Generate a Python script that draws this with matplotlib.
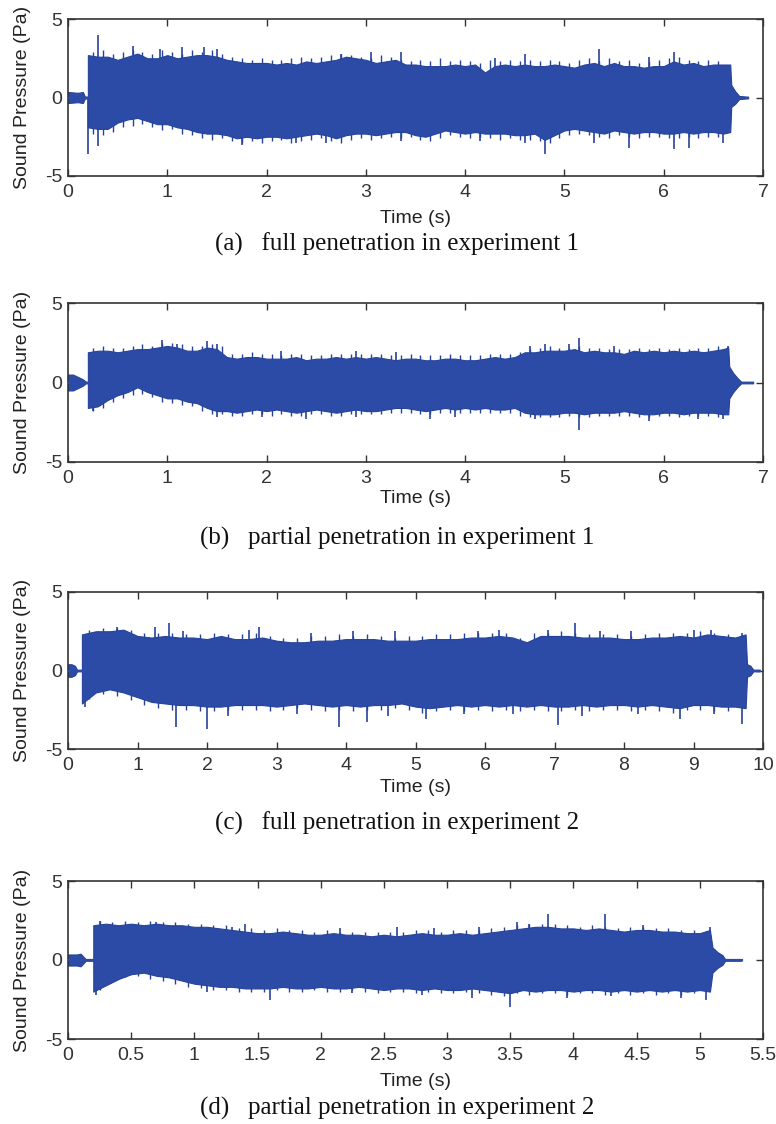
import numpy as np
import matplotlib.pyplot as plt

# envelopes of the recorded sound pressure (Pa), read off the figure
# body values are sampled every dt seconds starting at t0,
# *_pk are the edge peaks half way between body samples

# (a) full penetration in experiment 1
a_head_t = [0, 0.1, 0.15, 0.17, 0.2]
a_head_amp = [0.35, 0.3, 0.35, 0.06, 0.06]
a_t0, a_dt = 0.2, 0.1
a_up = [2.7, 2.6, 2.6, 2.4, 2.6, 2.8, 2.5, 2.5, 2.7, 2.5, 2.6, 2.7, 2.7, 2.6, 2.4, 2.3,
        2.2, 2.2, 2.2, 2.1, 2.2, 2.1, 2.3, 2.2, 2.3, 2.4, 2.6, 2.5, 2.4, 2.2, 2.3, 2.4,
        2.1, 2.1, 2.0, 2.0, 2.0, 2.1, 2.0, 2.1, 1.6, 2.0, 2.1, 2.0, 2.1, 2.0, 2.0, 2.1,
        2.0, 1.9, 2.1, 2.2, 2.0, 2.2, 2.0, 2.0, 1.9, 2.0, 2.0, 2.3, 2.1, 2.2, 2.0, 2.1, 2.1]
a_lo = [-1.9, -2.0, -2.0, -1.6, -1.4, -1.3, -1.5, -1.7, -1.7, -1.9, -2.0, -2.2, -2.3, -2.3,
        -2.4, -2.6, -2.5, -2.6, -2.5, -2.5, -2.6, -2.5, -2.4, -2.3, -2.4, -2.6, -2.4, -2.3,
        -2.3, -2.4, -2.3, -2.2, -2.2, -2.4, -2.5, -2.3, -2.1, -2.2, -2.3, -2.2, -2.3, -2.3,
        -2.3, -2.4, -2.4, -2.3, -2.7, -2.4, -2.1, -2.0, -2.1, -2.2, -2.3, -2.1, -2.2, -2.3,
        -2.2, -2.2, -2.3, -2.3, -2.2, -2.3, -2.2, -2.2, -2.3]
a_up_pk = [2.9, 3.0, 2.8, 2.9, 3.0, 2.9, 2.8, 3.0, 2.9, 2.8, 3.0, 2.9, 3.0, 2.8, 2.6, 2.5,
           2.4, 2.5, 2.4, 2.4, 2.5, 2.6, 2.5, 2.6, 2.7, 2.8, 2.7, 2.6, 2.5, 2.7, 2.6, 2.4,
           2.3, 2.4, 2.3, 2.5, 2.3, 2.4, 2.3, 2.2, 2.4, 2.3, 2.4, 2.3, 2.4, 2.3, 2.4, 2.3,
           2.2, 2.4, 2.5, 2.3, 2.5, 2.3, 2.4, 2.2, 2.3, 2.4, 2.5, 2.6, 2.4, 2.3, 2.4, 2.3]
a_lo_pk = [-2.3, -2.4, -2.2, -1.9, -1.8, -1.7, -1.9, -2.1, -2.0, -2.3, -2.4, -2.6, -2.7, -2.6,
           -2.8, -2.9, -2.8, -2.9, -2.8, -2.7, -2.9, -2.8, -2.7, -2.6, -2.8, -2.9, -2.7, -2.6,
           -2.7, -2.6, -2.5, -2.6, -2.5, -2.7, -2.8, -2.6, -2.4, -2.5, -2.6, -2.5, -2.6, -2.7,
           -2.6, -2.7, -2.7, -2.8, -2.9, -2.6, -2.4, -2.3, -2.4, -2.5, -2.6, -2.4, -2.5, -2.6,
           -2.5, -2.5, -2.6, -2.6, -2.5, -2.6, -2.5, -2.5]
a_tail_t = [6.67, 6.68, 6.72, 6.76, 6.85]
a_tail_up = [2.1, 0.8, 0.4, 0.1, 0.05]
a_tail_lo = [-2.2, -0.6, -0.4, -0.1, -0.05]
a_spk_t = [0.3, 0.65, 0.93, 1.15, 1.37, 1.5, 2.75, 3.05, 3.35, 4.3, 4.6, 5.35, 5.85, 6.1,
           0.2, 0.3, 1.75, 2.3, 2.6, 3.35, 4.15, 4.6, 4.8, 5.3, 5.65, 6.1, 6.25, 6.6]
a_spk_v = [4.0, 3.3, 3.1, 3.2, 3.2, 3.1, 2.8, 2.9, 2.9, 2.5, 2.8, 3.1, 2.6, 2.9,
           -3.6, -3.1, -3.0, -2.9, -2.9, -2.8, -2.8, -2.9, -3.6, -2.9, -3.2, -3.3, -3.2, -2.9]

# (b) partial penetration in experiment 1
b_head_t = [0, 0.05, 0.1, 0.15, 0.18, 0.2]
b_head_amp = [0.5, 0.5, 0.35, 0.2, 0.05, 0.05]
b_t0, b_dt = 0.2, 0.1
b_up = [1.9, 2.0, 2.0, 1.9, 2.0, 2.1, 2.1, 2.2, 2.3, 2.2, 2.0, 2.0, 2.2, 2.1, 1.6, 1.5,
        1.6, 1.6, 1.5, 1.5, 1.5, 1.6, 1.4, 1.5, 1.5, 1.6, 1.5, 1.6, 1.5, 1.6, 1.5, 1.4,
        1.5, 1.5, 1.4, 1.4, 1.5, 1.5, 1.4, 1.4, 1.5, 1.6, 1.5, 1.6, 1.9, 1.9, 2.0, 2.0,
        2.0, 2.1, 1.9, 2.0, 1.9, 1.9, 1.8, 2.0, 1.9, 2.0, 1.9, 2.0, 1.9, 2.0, 1.9, 2.0, 2.1]
b_lo = [-1.6, -1.5, -1.1, -0.8, -0.6, -0.3, -0.6, -0.8, -1.0, -1.0, -1.2, -1.3, -1.6, -1.8,
        -1.8, -1.9, -1.8, -1.7, -1.8, -1.7, -1.8, -1.9, -1.8, -1.7, -1.8, -1.9, -1.8, -1.7,
        -1.8, -1.8, -1.7, -1.6, -1.6, -1.7, -1.8, -1.7, -1.6, -1.7, -1.6, -1.7, -1.6, -1.7,
        -1.7, -1.6, -1.9, -2.0, -2.0, -2.0, -1.9, -1.9, -2.0, -1.9, -1.9, -1.9, -1.8, -1.9,
        -2.0, -2.0, -1.9, -1.9, -2.0, -1.9, -1.9, -1.9, -2.0]
b_up_pk = [2.2, 2.3, 2.2, 2.2, 2.3, 2.4, 2.3, 2.5, 2.5, 2.4, 2.3, 2.3, 2.4, 2.3, 1.8, 1.8,
           1.9, 1.8, 1.8, 1.7, 1.8, 1.8, 1.7, 1.7, 1.8, 1.8, 1.8, 1.8, 1.8, 1.8, 1.7, 1.7,
           1.8, 1.7, 1.7, 1.7, 1.8, 1.7, 1.7, 1.7, 1.8, 1.8, 1.8, 1.9, 2.1, 2.2, 2.3, 2.2,
           2.2, 2.3, 2.2, 2.2, 2.1, 2.1, 2.1, 2.2, 2.1, 2.2, 2.1, 2.2, 2.1, 2.2, 2.2, 2.3]
b_lo_pk = [-1.8, -1.6, -1.2, -1.0, -0.8, -0.7, -0.9, -1.2, -1.3, -1.4, -1.5, -1.8, -2.0, -2.0,
           -2.1, -2.1, -2.0, -2.0, -2.1, -2.0, -2.1, -2.1, -2.0, -2.0, -2.1, -2.1, -2.0, -2.0,
           -2.0, -2.0, -1.9, -1.9, -1.9, -2.0, -2.0, -1.9, -1.9, -1.9, -1.9, -1.9, -1.9, -1.9,
           -1.9, -2.1, -2.2, -2.2, -2.2, -2.2, -2.1, -2.2, -2.2, -2.1, -2.1, -2.1, -2.1, -2.2,
           -2.2, -2.1, -2.1, -2.2, -2.1, -2.1, -2.1, -2.2]
b_tail_t = [6.65, 6.66, 6.7, 6.74, 6.78, 6.9]
b_tail_up = [2.2, 1.0, 0.6, 0.3, 0.05, 0.05]
b_tail_lo = [-2.0, -1.0, -0.6, -0.3, -0.05, -0.05]
b_spk_t = [0.95, 1.1, 1.4, 1.5, 2.15, 2.9, 3.3, 4.65, 4.8, 5.05, 5.15, 5.5, 6.65,
           0.25, 1.5, 1.95, 2.4, 2.9, 3.65, 3.9, 4.7, 5.15, 5.85, 6.35, 6.6]
b_spk_v = [2.7, 2.4, 2.6, 2.4, 2.0, 2.0, 1.9, 2.3, 2.4, 2.4, 2.8, 2.3, 2.3,
           -1.8, -2.2, -2.2, -2.3, -2.2, -2.3, -2.2, -2.3, -3.0, -2.4, -2.3, -2.3]

# (c) full penetration in experiment 2
c_head_t = [0, 0.05, 0.1, 0.13, 0.2]
c_head_amp = [0.4, 0.4, 0.3, 0.05, 0.05]
c_t0, c_dt = 0.2, 0.2
c_up = [2.3, 2.5, 2.5, 2.6, 2.2, 2.1, 2.2, 2.1, 2.1, 2.0, 2.2, 2.0, 2.0, 2.1, 1.9, 1.8,
        1.8, 1.9, 1.9, 2.0, 2.0, 2.0, 1.9, 1.9, 1.9, 2.0, 2.0, 2.0, 2.1, 2.1, 2.2, 2.1,
        1.8, 2.2, 2.2, 2.2, 2.1, 2.1, 2.1, 2.0, 2.0, 2.1, 2.1, 2.2, 2.1, 2.3, 2.2, 2.1]
c_lo = [-2.1, -1.4, -1.2, -1.4, -1.7, -2.0, -2.1, -2.2, -2.2, -2.3, -2.3, -2.2, -2.2, -2.2,
        -2.3, -2.2, -2.1, -2.2, -2.3, -2.2, -2.3, -2.2, -2.2, -2.1, -2.3, -2.4, -2.3, -2.2,
        -2.3, -2.2, -2.3, -2.2, -2.3, -2.2, -2.3, -2.3, -2.2, -2.3, -2.2, -2.2, -2.3, -2.2,
        -2.3, -2.4, -2.2, -2.2, -2.3, -2.3]
c_up_pk = [2.6, 2.7, 2.7, 2.6, 2.4, 2.4, 2.4, 2.3, 2.3, 2.4, 2.3, 2.3, 2.4, 2.2, 2.1, 2.1,
           2.2, 2.2, 2.3, 2.2, 2.3, 2.2, 2.1, 2.2, 2.2, 2.3, 2.3, 2.4, 2.4, 2.4, 2.4, 2.1,
           2.4, 2.4, 2.5, 2.4, 2.3, 2.3, 2.3, 2.2, 2.3, 2.4, 2.4, 2.4, 2.5, 2.4, 2.3]
c_lo_pk = [-1.8, -1.5, -1.6, -1.9, -2.2, -2.4, -2.5, -2.5, -2.6, -2.6, -2.5, -2.5, -2.5, -2.6,
           -2.5, -2.4, -2.5, -2.6, -2.5, -2.6, -2.5, -2.5, -2.4, -2.5, -2.7, -2.6, -2.5, -2.6,
           -2.5, -2.6, -2.5, -2.6, -2.5, -2.6, -2.6, -2.5, -2.6, -2.5, -2.5, -2.6, -2.5, -2.6,
           -2.7, -2.5, -2.5, -2.6, -2.6]
c_tail_t = [9.75, 9.77, 9.82, 9.86, 9.95]
c_tail_up = [2.3, 0.4, 0.3, 0.05, 0.05]
c_tail_lo = [-2.4, -0.4, -0.3, -0.05, -0.05]
c_spk_t = [0.7, 1.25, 1.45, 1.65, 2.6, 2.75, 3.5, 4.1, 4.7, 5.9, 6.2, 6.9, 7.3, 7.65, 8.1,
           9.0, 9.25, 9.7,
           0.25, 1.55, 2.0, 2.3, 3.3, 3.9, 4.3, 4.6, 5.15, 5.7, 6.4, 7.05, 7.4, 8.2, 8.8,
           9.3, 9.7]
c_spk_v = [2.8, 2.8, 3.0, 2.5, 2.6, 2.8, 2.4, 2.5, 2.5, 2.5, 2.6, 2.6, 3.0, 2.5, 2.5,
           2.6, 2.6, 2.4,
           -2.3, -3.6, -3.7, -2.9, -2.8, -3.6, -3.3, -2.9, -3.1, -2.8, -2.8, -3.5, -2.9, -2.8,
           -3.1, -2.8, -3.4]

# (d) partial penetration in experiment 2
d_head_t = [0, 0.07, 0.1, 0.14, 0.2]
d_head_amp = [0.35, 0.35, 0.4, 0.05, 0.05]
d_t0, d_dt = 0.2, 0.1
d_up = [2.2, 2.3, 2.2, 2.3, 2.2, 2.3, 2.2, 2.2, 2.1, 2.1, 2.0, 1.9, 1.8, 1.7, 1.7, 1.8,
        1.7, 1.6, 1.6, 1.7, 1.6, 1.6, 1.5, 1.6, 1.5, 1.6, 1.7, 1.6, 1.6, 1.7, 1.6, 1.7,
        1.8, 1.9, 2.0, 2.1, 2.1, 2.0, 2.0, 1.9, 2.0, 1.9, 1.8, 1.9, 1.9, 1.8, 1.8, 1.7, 1.7]
d_lo = [-2.0, -1.6, -1.2, -0.9, -0.8, -1.0, -1.1, -1.3, -1.5, -1.6, -1.7, -1.7, -1.8, -1.8,
        -1.8, -1.7, -1.8, -1.8, -1.7, -1.8, -1.8, -1.7, -1.8, -1.9, -1.8, -1.8, -1.9, -1.8,
        -1.9, -1.9, -1.8, -1.9, -2.0, -2.1, -1.9, -2.0, -1.9, -1.9, -2.0, -1.9, -1.9, -2.0,
        -1.9, -2.0, -1.9, -2.0, -1.9, -2.0, -1.9]
d_up_pk = [2.5, 2.4, 2.5, 2.4, 2.5, 2.4, 2.4, 2.3, 2.3, 2.2, 2.2, 2.0, 2.0, 1.9, 2.0, 1.9,
           1.9, 1.8, 1.9, 1.8, 1.8, 1.8, 1.8, 1.8, 1.8, 1.9, 1.9, 1.8, 1.9, 1.9, 1.9, 2.0,
           2.1, 2.2, 2.3, 2.3, 2.3, 2.2, 2.1, 2.2, 2.1, 2.0, 2.1, 2.1, 2.0, 2.0, 1.9, 1.9]
d_lo_pk = [-1.9, -1.4, -1.1, -1.0, -1.2, -1.3, -1.5, -1.7, -1.8, -1.9, -1.9, -2.0, -2.0, -2.0,
           -1.9, -2.0, -2.0, -1.9, -2.0, -2.0, -1.9, -2.0, -2.1, -2.0, -2.0, -2.1, -2.0, -2.1,
           -2.1, -2.0, -2.1, -2.2, -2.3, -2.1, -2.2, -2.1, -2.1, -2.2, -2.1, -2.1, -2.2, -2.1,
           -2.2, -2.1, -2.2, -2.1, -2.2, -2.1]
d_tail_t = [5.08, 5.1, 5.14, 5.18, 5.2, 5.33]
d_tail_up = [1.9, 0.8, 0.5, 0.3, 0.05, 0.05]
d_tail_lo = [-2.0, -0.8, -0.5, -0.3, -0.05, -0.05]
d_spk_t = [0.25, 0.7, 1.3, 1.4, 2.15, 2.6, 2.9, 3.25, 3.55, 3.65, 3.8, 4.25, 4.55, 5.08,
           0.22, 1.1, 1.6, 2.25, 2.8, 3.2, 3.5, 3.95, 4.3, 4.85, 5.05]
d_spk_v = [2.5, 2.4, 2.1, 2.3, 2.0, 2.1, 2.0, 2.1, 2.4, 2.3, 2.9, 2.9, 2.2, 2.1,
           -2.2, -2.0, -2.5, -2.1, -2.2, -2.4, -3.0, -2.4, -2.3, -2.4, -2.5]

captions = ['(a)   full penetration in experiment 1',
            '(b)   partial penetration in experiment 1',
            '(c)   full penetration in experiment 2',
            '(d)   partial penetration in experiment 2']
xmax = [7, 7, 10, 5.5]
xticks = [np.arange(0, 8), np.arange(0, 8), np.arange(0, 11), np.arange(0, 5.6, 0.5)]
xticklabels = [[str(i) for i in range(8)], [str(i) for i in range(8)],
               [str(i) for i in range(11)],
               ['0', '0.5', '1', '1.5', '2', '2.5', '3', '3.5', '4', '4.5', '5', '5.5']]

blue = '#2b4ba6'
edge = '#26439a'
sans = 'Liberation Sans'
serif = 'Liberation Serif'

# axes boxes in pixels (top, bottom) of a 776x1124 figure
W, H = 776, 1124
boxes = [(19, 176), (303, 462), (592, 749), (881, 1039)]
cap_y = [244, 538, 823, 1108]
xlab_pad = [6, 2, 3, 6]

fig = plt.figure(figsize=(W / 100, H / 100), dpi=100)

data = [
    (a_head_t, a_head_amp, a_t0, a_dt, a_up, a_lo, a_up_pk, a_lo_pk, a_tail_t, a_tail_up, a_tail_lo, a_spk_t, a_spk_v),
    (b_head_t, b_head_amp, b_t0, b_dt, b_up, b_lo, b_up_pk, b_lo_pk, b_tail_t, b_tail_up, b_tail_lo, b_spk_t, b_spk_v),
    (c_head_t, c_head_amp, c_t0, c_dt, c_up, c_lo, c_up_pk, c_lo_pk, c_tail_t, c_tail_up, c_tail_lo, c_spk_t, c_spk_v),
    (d_head_t, d_head_amp, d_t0, d_dt, d_up, d_lo, d_up_pk, d_lo_pk, d_tail_t, d_tail_up, d_tail_lo, d_spk_t, d_spk_v),
]

for i, (head_t, head_amp, t0, dt, up, lo, up_pk, lo_pk, tail_t, tail_up, tail_lo, spk_t, spk_v) in enumerate(data):
    top, bot = boxes[i]
    ax = fig.add_axes([68 / W, 1 - bot / H, (763 - 68) / W, (bot - top) / H])
    body_t = t0 + dt * np.arange(len(up))
    pk_t = body_t[:-1] + dt / 2
    t = np.r_[head_t, body_t, tail_t]
    hi = np.r_[head_amp, up, tail_up]
    low = np.r_[-np.array(head_amp), lo, tail_lo]
    # spikes below, the solid body over them so only the tips show
    ax.vlines(pk_t, 0, up_pk, color=edge, lw=1.0, zorder=1)
    ax.vlines(pk_t, 0, lo_pk, color=edge, lw=1.0, zorder=1)
    ax.vlines(spk_t, 0, spk_v, color=edge, lw=1.2, zorder=1)
    ax.fill_between(t, low, hi, color=blue, lw=0.8, edgecolor=edge, zorder=2)
    ax.plot([head_t[0], tail_t[-1]], [0, 0], color=blue, lw=1.6, zorder=3)

    ax.set_xlim(0, xmax[i])
    ax.set_ylim(-5, 5)
    ax.set_xticks(xticks[i])
    ax.set_xticklabels(xticklabels[i])
    ax.set_yticks([-5, 0, 5])
    ax.set_yticklabels(['-5', '0', '5'])
    ax.tick_params(direction='in', top=True, right=True, length=5, width=1,
                   labelsize=14, colors='#333333')
    ax.tick_params(axis='x', pad=6)
    ax.tick_params(axis='y', pad=4)
    for lab in ax.get_xticklabels() + ax.get_yticklabels():
        lab.set_fontfamily(sans)
    for s in ax.spines.values():
        s.set_linewidth(1.2)
        s.set_color('#333333')
    ax.set_xlabel('Time (s)', fontsize=14, family=sans, labelpad=xlab_pad[i], color='#222222')
    ax.set_ylabel('Sound Pressure (Pa)', fontsize=14, family=sans, color='#222222')
    ax.yaxis.set_label_coords(-0.053, 0.5)

    fig.text(397 / W, 1 - cap_y[i] / H, captions[i], ha='center', va='center',
             fontsize=18, family=serif, color='#111111')

plt.savefig('out.png', dpi=100)
